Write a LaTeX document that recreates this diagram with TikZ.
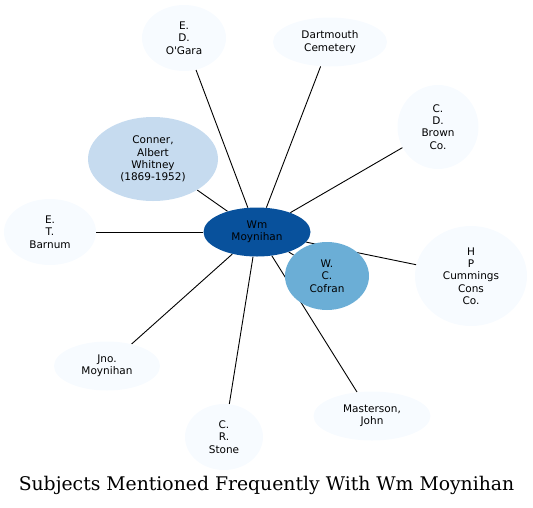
\documentclass[tikz,border=0pt]{standalone}
\usepackage{fontspec}
\setmainfont{DejaVu Sans}
\newfontfamily\titlefont{DejaVu Serif}
\usetikzlibrary{backgrounds,shapes.geometric}
\definecolor{cdark}{HTML}{08519C}
\definecolor{cmid}{HTML}{6BAED6}
\definecolor{clight}{HTML}{C6DBEF}
\definecolor{cpale}{HTML}{F7FBFF}
\tikzset{
  ent/.style={ellipse, fill=cpale, draw=none, align=center, inner sep=0pt,
    font=\fontsize{10.5}{12.3}\selectfont},
  link/.style={draw=black, line width=0.9pt},
}
\begin{document}
\begin{tikzpicture}[x=1pt,y=-1pt]
\useasboundingbox (0,0) rectangle (533,507);
\node[ent, fill=cdark, minimum width=107pt, minimum height=49pt] (wm) at (257,232) {Wm\\Moynihan};
\node[ent, minimum width=84pt, minimum height=66pt] (ogara) at (184,38) {E.\\D.\\O\textquotesingle Gara};
\node[ent, minimum width=114pt, minimum height=49pt] (dart) at (330,42) {Dartmouth\\Cemetery};
\node[ent, minimum width=81pt, minimum height=84pt] (brown) at (438,127) {C.\\D.\\Brown\\Co.};
\node[ent, fill=clight, minimum width=130pt, minimum height=84pt] (conner) at (153,159) {Conner,\\Albert\\Whitney\\(1869-1952)};
\node[ent, minimum width=92pt, minimum height=66pt] (barnum) at (50,232) {E.\\T.\\Barnum};
\node[ent, fill=cmid, minimum width=84pt, minimum height=68pt] (cofran) at (327,276) {W.\\C.\\Cofran};
\node[ent, minimum width=112pt, minimum height=100pt] (cummings) at (471,276) {H\\P\\Cummings\\Cons\\Co.};
\node[ent, minimum width=106pt, minimum height=49pt] (jno) at (107,366) {Jno.\\Moynihan};
\node[ent, minimum width=78pt, minimum height=66pt] (stone) at (224,437) {C.\\R.\\Stone};
\node[ent, minimum width=117pt, minimum height=49pt] (mast) at (372,416) {Masterson,\\John};
\node[font=\titlefont\fontsize{18.8}{20}\selectfont] (title) at (266.5,485) {Subjects Mentioned Frequently With Wm Moynihan};
\begin{scope}[on background layer]
\foreach \t in {ogara,dart,brown,conner,barnum,cofran,cummings,jno,stone,mast}
  \draw[link] (wm) -- (\t);
\end{scope}
\end{tikzpicture}
\end{document}
